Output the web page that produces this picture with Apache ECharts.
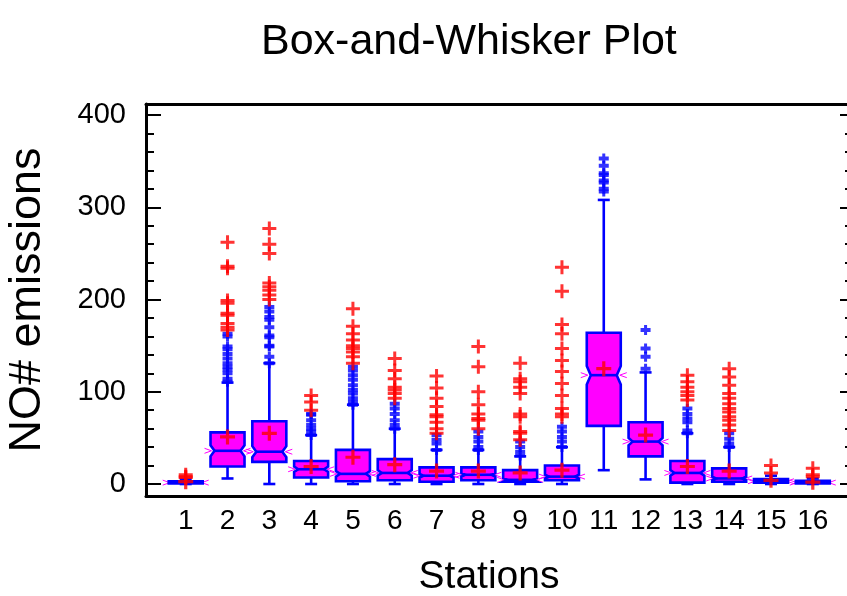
<!DOCTYPE html>
<html>
<head>
<meta charset="utf-8">
<title>Box-and-Whisker Plot</title>
<script src="https://cdn.jsdelivr.net/npm/echarts@6/dist/echarts.min.js"></script>
<style>
  html, body { margin: 0; padding: 0; background: #fff; }
  #chart { width: 847px; height: 596px; }
</style>
</head>
<body>
<div id="chart"></div>
<script>
// data
var stations = ['1', '2', '3', '4', '5', '6', '7', '8', '9', '10', '11', '12', '13', '14', '15', '16'];
var whiskerLow = [0, 6, 0, 0, 0, 0, 0, 0, 0, 0, 15, 5, 0, 0, 0, 0];
var q1 = [0.5, 19, 24, 7, 3, 4, 2.5, 4, 2.5, 4, 63, 30, 1.5, 2.5, 1.5, 0.5];
var median = [1.5, 36, 35, 16, 11, 12, 9, 10, 4.5, 8, 118, 46, 12, 6, 3, 1.5];
var q3 = [3, 56, 68, 25, 37, 27, 18, 18, 15, 20, 164, 67, 25, 17, 5.5, 3.5];
var whiskerHigh = [5, 110, 131, 53, 86, 60, 37, 37, 30, 40, 308, 121, 55, 40, 9, 6];
var means = [2.5, 51, 55, 19, 29, 21, 14, 14, 12, 15, 125, 53, 19, 14, 4, 2];
var notch = [0.3, 6, 6, 3, 3, 3, 2, 2, 2, 2, 10, 4, 3, 2, 0.5, 0.3];

// outside points (blue) and far outside points (red)
var outside = [
  [],
  [111, 114, 120, 124, 127, 131, 136, 141, 146, 149, 160, 163],
  [131, 138, 149, 150, 159, 161, 170, 178, 181, 187, 192],
  [53, 57, 60, 64, 69, 75, 76],
  [86, 89, 93, 98, 102, 107, 113, 118, 123, 127],
  [60, 64, 69, 76, 82, 87],
  [37, 44, 48, 53],
  [37, 40, 46, 51, 57],
  [31, 35, 40, 46],
  [40, 46, 51, 57, 62],
  [317, 320, 327, 329, 335, 337, 345, 353],
  [125, 138, 147, 167],
  [55, 58, 67, 71, 76, 82],
  [40, 44, 49, 55],
  [],
  []
];
var farOutside = [
  [7, 8, 10],
  [167, 170, 174, 183, 185, 196, 199, 234, 236, 262],
  [200, 205, 210, 214, 218, 250, 260, 277],
  [80, 89, 96],
  [131, 138, 143, 147, 150, 156, 163, 171, 190],
  [93, 98, 102, 105, 114, 123, 136],
  [55, 60, 67, 73, 75, 84, 93, 104, 117],
  [60, 69, 71, 76, 86, 100, 127, 149],
  [48, 55, 57, 73, 76, 98, 105, 111, 114, 131],
  [73, 76, 82, 96, 109, 122, 134, 147, 163, 173, 209, 235],
  [],
  [],
  [91, 96, 100, 105, 111, 118],
  [58, 64, 69, 73, 78, 82, 87, 93, 98, 107, 116, 125],
  [12, 20],
  [8, 10, 17]
];

var yMajor = [0, 100, 200, 300, 400];
var yMinor = [20, 40, 60, 80, 120, 140, 160, 180, 220, 240, 260, 280, 320, 340, 360, 380];

var boxData = [];
var outsideData = [];
var farData = [];
var meanData = [];
for (var i = 0; i < stations.length; i++) {
  var x = i + 1;
  boxData.push([x, whiskerLow[i], q1[i], median[i], q3[i], whiskerHigh[i], notch[i]]);
  meanData.push([x, means[i]]);
  outside[i].forEach(function (v) { outsideData.push([x, v]); });
  farOutside[i].forEach(function (v) { farData.push([x, v]); });
}

var fontFamily = '"Liberation Sans", Arial, sans-serif';
var BLUE = '#0000ff';
var MAGENTA = '#ff00ff';
var RED = '#ff0000';
var plusBlue = 'path://M0,3H10V7H0Z M3.5,0H6.5V10H3.5Z';
var plusRed = 'path://M0,5.5H14V8.5H0Z M5.5,0H8.5V14H5.5Z';

function renderBox(params, api) {
  var x = api.value(0);
  var py = function (v) { return api.coord([x, v])[1]; };
  var cx = api.coord([x, 0])[0];
  var yLo = py(api.value(1)), yQ1 = py(api.value(2)), yMed = py(api.value(3));
  var yQ3 = py(api.value(4)), yHi = py(api.value(5));
  var nUp = Math.max(py(api.value(3) + api.value(6)), yQ3);
  var nDn = Math.min(py(api.value(3) - api.value(6)), yQ1);
  var hw = 17, inset = 4, cap = 6;
  var line = { stroke: BLUE, lineWidth: 2.6 };
  return {
    type: 'group',
    children: [
      { type: 'line', shape: { x1: cx, y1: yLo, x2: cx, y2: yQ1 }, style: line },
      { type: 'line', shape: { x1: cx, y1: yQ3, x2: cx, y2: yHi }, style: line },
      { type: 'line', shape: { x1: cx - cap, y1: yLo, x2: cx + cap, y2: yLo }, style: line },
      { type: 'line', shape: { x1: cx - cap, y1: yHi, x2: cx + cap, y2: yHi }, style: line },
      // little magenta marks at the median, left and right of the box
      { type: 'polyline', shape: { points: [[cx - hw - 6, yMed - 2.5], [cx - hw + 1, yMed], [cx - hw - 6, yMed + 2.5]] },
        style: { stroke: MAGENTA, lineWidth: 1, fill: null } },
      { type: 'polyline', shape: { points: [[cx + hw + 6, yMed - 2.5], [cx + hw - 1, yMed], [cx + hw + 6, yMed + 2.5]] },
        style: { stroke: MAGENTA, lineWidth: 1, fill: null } },
      {
        type: 'polygon',
        shape: {
          points: [
            [cx - hw, yQ3], [cx + hw, yQ3], [cx + hw, nUp], [cx + hw - inset, yMed],
            [cx + hw, nDn], [cx + hw, yQ1], [cx - hw, yQ1], [cx - hw, nDn],
            [cx - hw + inset, yMed], [cx - hw, nUp]
          ]
        },
        style: { fill: MAGENTA, stroke: BLUE, lineWidth: 2.6 }
      },
      { type: 'line', shape: { x1: cx - hw + inset, y1: yMed, x2: cx + hw - inset, y2: yMed }, style: line }
    ]
  };
}

var chart = echarts.init(document.getElementById('chart'));
var yRange = { min: -13, max: 412 };
var xRange = { min: 0.05, max: 16.89 };

chart.setOption({
  backgroundColor: '#fff',
  animation: false,
  title: {
    text: 'Box-and-Whisker Plot',
    left: 256,
    top: 16,
    textStyle: { fontFamily: fontFamily, fontSize: 43, fontWeight: 'normal', color: '#000' }
  },
  grid: { left: 146, top: 104, width: 704, height: 392, show: false, containLabel: false, outerBoundsMode: 'none' },
  xAxis: [{
    type: 'value',
    min: xRange.min,
    max: xRange.max,
    position: 'bottom',
    name: 'Stations',
    nameLocation: 'middle',
    nameGap: 62,
    nameTextStyle: { fontFamily: fontFamily, fontSize: 39, color: '#000', padding: [0, 18, 0, 0] },
    axisLine: { show: true, onZero: false, lineStyle: { color: '#000', width: 3 } },
    axisTick: { show: false },
    splitLine: { show: false },
    axisLabel: {
      customValues: stations.map(function (s, i) { return i + 1; }),
      formatter: function (v) { return stations[v - 1]; },
      fontFamily: fontFamily, fontSize: 28, color: '#000', margin: 11
    }
  }, {
    type: 'value',
    min: xRange.min,
    max: xRange.max,
    position: 'top',
    axisLine: { show: true, onZero: false, lineStyle: { color: '#000', width: 3 } },
    axisTick: { show: false },
    axisLabel: { show: false },
    splitLine: { show: false }
  }],
  yAxis: [{
    type: 'value',
    min: yRange.min,
    max: yRange.max,
    position: 'left',
    name: 'NO# emissions',
    nameLocation: 'middle',
    nameRotate: 90,
    nameGap: 96,
    nameTextStyle: { fontFamily: fontFamily, fontSize: 45, color: '#000' },
    axisLine: { show: true, onZero: false, lineStyle: { color: '#000', width: 3 } },
    axisTick: { show: true, inside: true, length: 15, customValues: yMajor, lineStyle: { color: '#000', width: 2 } },
    splitLine: { show: false },
    axisLabel: {
      customValues: yMajor,
      fontFamily: fontFamily, fontSize: 29, color: '#000', margin: 20
    }
  }, {
    type: 'value',
    min: yRange.min,
    max: yRange.max,
    position: 'left',
    axisLine: { show: false, onZero: false },
    axisTick: { show: true, inside: true, length: 8, customValues: yMinor, lineStyle: { color: '#000', width: 2 } },
    axisLabel: { show: false },
    splitLine: { show: false }
  }, {
    type: 'value',
    min: yRange.min,
    max: yRange.max,
    position: 'right',
    axisLine: { show: false, onZero: false },
    axisTick: { show: true, inside: true, length: 10, customValues: yMajor, lineStyle: { color: '#000', width: 2 } },
    axisLabel: { show: false },
    splitLine: { show: false }
  }, {
    type: 'value',
    min: yRange.min,
    max: yRange.max,
    position: 'right',
    axisLine: { show: false, onZero: false },
    axisTick: { show: true, inside: true, length: 5, customValues: yMinor, lineStyle: { color: '#000', width: 2 } },
    axisLabel: { show: false },
    splitLine: { show: false }
  }],
  series: [{
    type: 'custom',
    name: 'box',
    xAxisIndex: 0,
    yAxisIndex: 0,
    renderItem: renderBox,
    encode: { x: 0, y: [1, 2, 3, 4, 5] },
    data: boxData,
    z: 2
  }, {
    type: 'scatter',
    name: 'outside',
    xAxisIndex: 0,
    yAxisIndex: 0,
    symbol: plusBlue,
    symbolSize: [10, 10],
    itemStyle: { color: BLUE },
    data: outsideData,
    z: 3
  }, {
    type: 'scatter',
    name: 'far outside',
    xAxisIndex: 0,
    yAxisIndex: 0,
    symbol: plusRed,
    symbolSize: [14, 14],
    itemStyle: { color: RED },
    data: farData,
    z: 4
  }, {
    type: 'scatter',
    name: 'mean',
    xAxisIndex: 0,
    yAxisIndex: 0,
    symbol: plusRed,
    symbolSize: [15, 15],
    itemStyle: { color: RED },
    data: meanData,
    z: 5
  }]
});
</script>
</body>
</html>
